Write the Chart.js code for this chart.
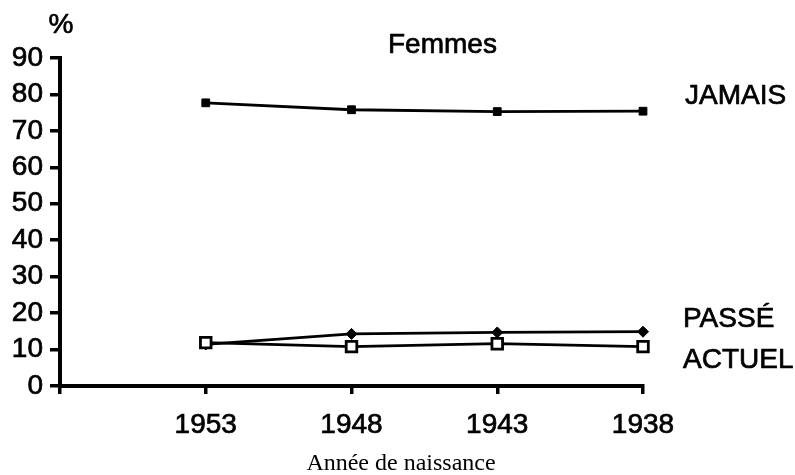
<!DOCTYPE html>
<html>
<head>
<meta charset="utf-8">
<script src="https://cdn.jsdelivr.net/npm/chart.js@4"></script>
<style>
  html, body { margin: 0; padding: 0; background: #fff; }
  #wrap { width: 795px; height: 475px; position: relative; }
</style>
</head>
<body>
<div id="wrap"><canvas id="c" width="795" height="475"></canvas></div>
<script>
// ---- data ----
const years = ['1953', '1948', '1943', '1938'];
const jamais = [77.7, 75.8, 75.3, 75.4];
const passe = [11.4, 14.3, 14.7, 14.9];
const actuel = [11.9, 10.8, 11.6, 10.8];
const yTicks = [0, 10, 20, 30, 40, 50, 60, 70, 80, 90];
const seriesNames = ['JAMAIS', 'PASSÉ', 'ACTUEL'];
const chartTitle = 'Femmes';
const yUnit = '%';
const xTitle = 'Année de naissance';

const labels = [''].concat(years);
const pad = arr => [null].concat(arr);

const SANS = '"Liberation Sans", Arial, Helvetica, sans-serif';
const SERIF = '"Liberation Serif", "Times New Roman", serif';

function boldText(ctx, t, x, y, w) {
  ctx.lineWidth = w;
  ctx.strokeText(t, x, y);
  ctx.fillText(t, x, y);
}

const textPlugin = {
  id: 'texts',
  afterDraw(chart) {
    const ctx = chart.ctx;
    ctx.save();
    ctx.fillStyle = '#000';
    ctx.strokeStyle = '#000';
    ctx.lineJoin = 'round';
    ctx.textBaseline = 'middle';
    ctx.textAlign = 'center';
    ctx.font = '28px ' + SANS;
    boldText(ctx, yUnit, 61, 25, 0.7);
    ctx.textAlign = 'left';
    ctx.font = '28px ' + SANS;
    boldText(ctx, chartTitle, 388, 45, 0.7);
    boldText(ctx, seriesNames[0], 685, 96, 0.7);
    boldText(ctx, seriesNames[1], 683, 319, 0.7);
    boldText(ctx, seriesNames[2], 683, 360, 0.7);
    ctx.textAlign = 'center';
    ctx.font = '24px ' + SERIF;
    ctx.fillText(xTitle, 401, 464);
    ctx.restore();
  }
};

new Chart(document.getElementById('c'), {
  type: 'line',
  data: {
    labels: labels,
    datasets: [
      {
        label: seriesNames[0], data: pad(jamais),
        borderColor: '#000', borderWidth: 2.8,
        pointStyle: 'rect', pointRadius: 5.5, pointBackgroundColor: '#000',
        pointBorderColor: '#000', pointBorderWidth: 1, tension: 0
      },
      {
        label: seriesNames[2], data: pad(actuel),
        borderColor: '#000', borderWidth: 2.8,
        pointStyle: 'rect', pointRadius: 7.5, pointBackgroundColor: '#fff',
        pointBorderColor: '#000', pointBorderWidth: 2.8, tension: 0
      },
      {
        label: seriesNames[1], data: pad(passe),
        borderColor: '#000', borderWidth: 2.8,
        pointStyle: 'rectRot', pointRadius: 5.5, pointBackgroundColor: '#000',
        pointBorderColor: '#000', pointBorderWidth: 1, tension: 0
      }
    ]
  },
  options: {
    responsive: false,
    animation: false,
    events: [],
    layout: { padding: { top: 58, right: 152, bottom: 0, left: 0 } },
    plugins: { legend: { display: false }, tooltip: { enabled: false }, title: { display: false } },
    scales: {
      x: {
        type: 'category',
        offset: false,
        grid: { drawOnChartArea: false, drawTicks: true, tickLength: 8, color: '#000', lineWidth: 3.5 },
        border: { display: true, color: '#000', width: 4 },
        ticks: { color: '#000', font: { family: SANS, size: 28 }, padding: 14, maxRotation: 0, autoSkip: false,
                 textStrokeColor: '#000', textStrokeWidth: 0.7 },
        afterFit(s) { s.height = 89; }
      },
      y: {
        type: 'linear',
        min: 0, max: 90,
        afterBuildTicks(s) { s.ticks = yTicks.map(v => ({ value: v })); },
        grid: { drawOnChartArea: false, drawTicks: true, tickLength: 10, color: '#000', lineWidth: 3.5 },
        border: { display: true, color: '#000', width: 4 },
        ticks: { color: '#000', font: { family: SANS, size: 28 }, padding: 7, autoSkip: false,
                 textStrokeColor: '#000', textStrokeWidth: 0.7 },
        afterFit(s) { s.width = 60; }
      }
    }
  },
  plugins: [textPlugin]
});
</script>
</body>
</html>
